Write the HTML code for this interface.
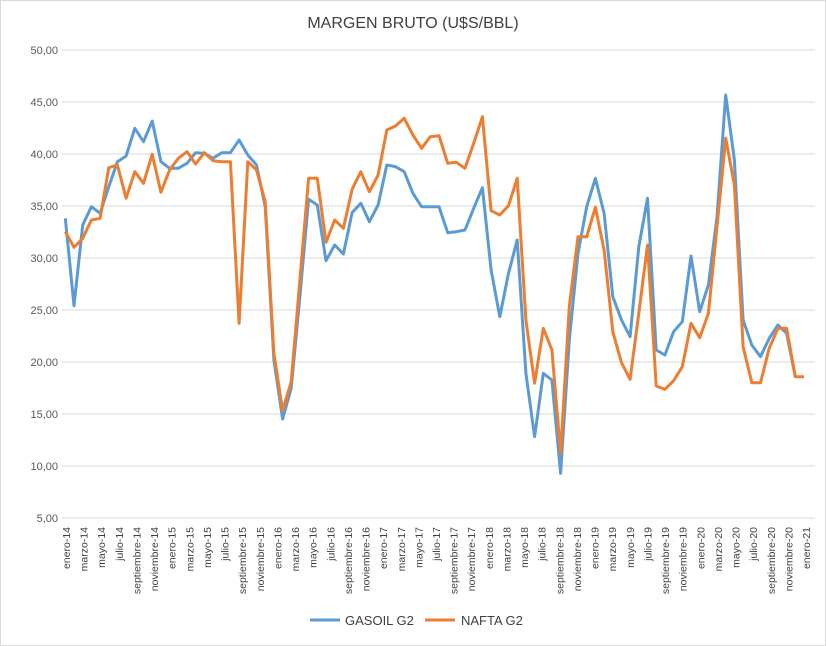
<!DOCTYPE html>
<html><head><meta charset="utf-8"><style>
body{margin:0;background:#fff;}
svg{display:block;font-family:"Liberation Sans",sans-serif;}
</style></head><body>
<svg id="s" width="826" height="646" xmlns="http://www.w3.org/2000/svg">
<rect x="0.5" y="0.5" width="825" height="645" fill="#fff" stroke="#d9d9d9"/>
<text x="413" y="28" text-anchor="middle" font-size="16" fill="#404040">MARGEN BRUTO (U$S/BBL)</text>
<g id="grid"></g>
<g id="xl" font-size="10.5" fill="#404040"></g>
<polyline id="b" fill="none" stroke="#5b9bd5" stroke-width="3" stroke-linejoin="round"/>
<polyline id="o" fill="none" stroke="#ed7d31" stroke-width="3" stroke-linejoin="round"/>
<line x1="310" y1="620" x2="340" y2="620" stroke="#5b9bd5" stroke-width="3"/>
<text x="345" y="625" font-size="13" fill="#404040">GASOIL G2</text>
<line x1="425" y1="620" x2="455" y2="620" stroke="#ed7d31" stroke-width="3"/>
<text x="461" y="625" font-size="13" fill="#404040">NAFTA G2</text>
</svg>
<script>
var ns="http://www.w3.org/2000/svg",g=document.getElementById("grid"),xl=document.getElementById("xl");
for(var v=5;v<=50;v+=5){var y=466-(v-10)*10.4;
var l=document.createElementNS(ns,"line");l.setAttribute("x1",62);l.setAttribute("x2",815);l.setAttribute("y1",y);l.setAttribute("y2",y);l.setAttribute("stroke","#d9d9d9");l.setAttribute("stroke-width","1");g.appendChild(l);
var t=document.createElementNS(ns,"text");t.setAttribute("x",58);t.setAttribute("y",y+4);t.setAttribute("text-anchor","end");t.setAttribute("font-size","11");t.setAttribute("fill","#595959");t.textContent=v.toFixed(2).replace(".",",");g.appendChild(t);}
var m=["enero","marzo","mayo","julio","septiembre","noviembre"];
for(var i=0;i<43;i++){var x=66+i*740/42+4;var t=document.createElementNS(ns,"text");
t.setAttribute("transform","translate("+x+",527) rotate(-90)");t.setAttribute("text-anchor","end");
t.textContent=m[i%6]+"-"+(14+Math.floor(i/6));xl.appendChild(t);}
var B=[535,797,555,500,520,440,365,348,265,305,243,365,385,385,370,338,340,355,338,338,300,345,375,500,960,1137,1045,770,478,495,662,615,642,518,490,545,495,375,380,395,460,500,500,500,578,575,570,505,443,690,830,700,600,1000,1190,1000,1020,1300,900,640,500,415,520,770,840,890,620,475,930,945,875,845,648,815,735,530,165,360,840,915,950,895,855,880,1010,1010];
var O=[575,622,595,540,535,383,375,475,395,430,343,457,390,355,335,372,338,362,365,365,850,365,390,485,940,1112,1025,720,415,415,607,540,565,448,395,455,405,270,258,235,285,325,290,287,370,367,385,310,230,512,525,497,415,840,1030,865,930,1240,800,590,590,502,630,875,968,1018,820,615,1038,1048,1022,980,850,893,820,560,295,435,920,1028,1028,925,865,865,1010,1010];
function pts(a){return a.map(function(z,i){return (65.3+8.69*i).toFixed(1)+","+(40+z/3).toFixed(1)}).join(" ")}
document.getElementById("b").setAttribute("points",pts(B.slice(0,85)));
document.getElementById("o").setAttribute("points",pts(O));
</script>
</body></html>
